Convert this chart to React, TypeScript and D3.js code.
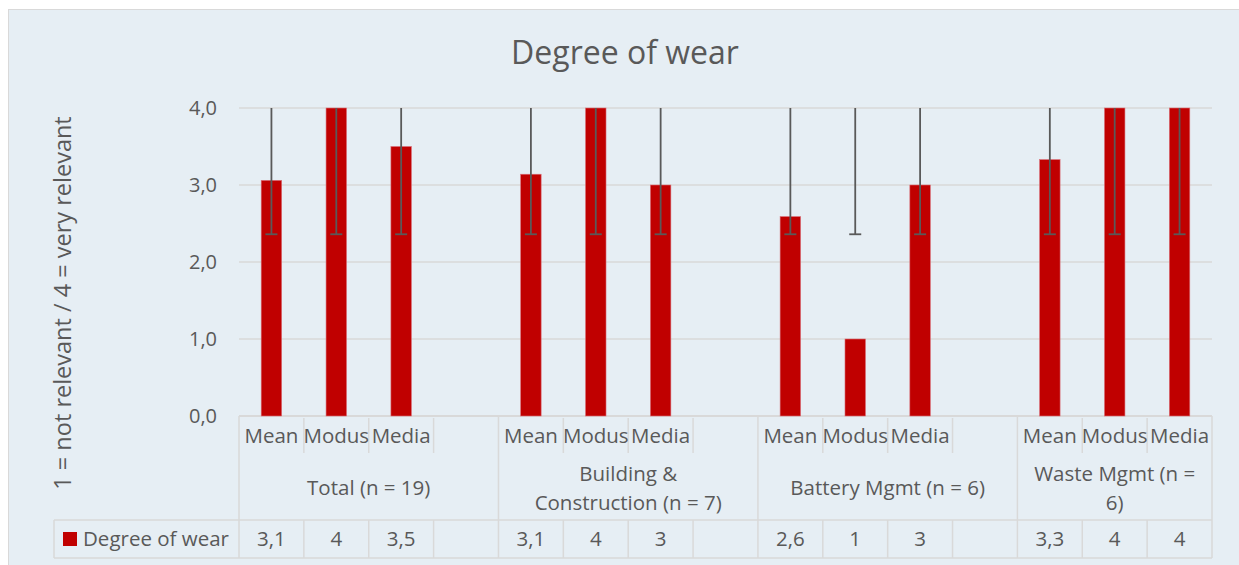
import React from "react";
import * as d3 from "d3";

const groupLines: string[][] = [
  ["Total (n = 19)"],
  ["Building &", "Construction (n = 7)"],
  ["Battery Mgmt (n = 6)"],
  ["Waste Mgmt (n =", "6)"],
];
const measures = ["Mean", "Modus", "Media"];
const values: number[][] = [
  [3.06, 4, 3.5],
  [3.14, 4, 3],
  [2.59, 1, 3],
  [3.33, 4, 4],
];
const tableLabels: string[][] = [
  ["3,1", "4", "3,5"],
  ["3,1", "4", "3"],
  ["2,6", "1", "3"],
  ["3,3", "4", "4"],
];
const errLow: number[][] = [
  [2.36, 2.36, 2.36],
  [2.36, 2.36, 2.36],
  [2.36, 2.36, 2.36],
  [2.36, 2.36, 2.36],
];
const errHigh = 4;
const yTicks = [0, 1, 2, 3, 4];
const seriesName = "Degree of wear";
const title = "Degree of wear";
const yTitle = "1 = not relevant / 4 = very relevant";

const W = 1239, H = 565;
const FONT = "'Open Sans', 'Noto Sans', sans-serif";
const TXT = "#595959";
const GRID = "#d9d9d9";
const RED = "#C00000";
const FS = 20.5;

export default function App() {
  const slots: { key: string; g: number; m: number }[] = [];
  groupLines.forEach((_, g) => {
    measures.forEach((_, m) => slots.push({ key: `${g}-${m}`, g, m }));
    if (g < groupLines.length - 1) slots.push({ key: `${g}-gap`, g, m: -1 });
  });
  const x = d3.scaleBand<string>().domain(slots.map((s) => s.key)).range([239, 1212]).padding(0);
  const y = d3.scaleLinear().domain([0, 4]).range([416, 108]);
  const bw = x.bandwidth();
  const barW = 20.5;

  const row1Top = 416, row1Bot = 454, row2Bot = 520, row3Bot = 558;
  const groupStart = (g: number) => x(slots.find((s) => s.g === g)!.key)!;
  const groupEnd = (g: number) => {
    const ss = slots.filter((s) => s.g === g);
    return x(ss[ss.length - 1].key)! + bw;
  };

  return (
    <svg width={W} height={H} style={{ position: "absolute", left: 0, top: 0 }} fontFamily={FONT}>
      <rect x={0} y={0} width={W} height={H} fill="#ffffff" />
      <rect x={8.5} y={9.5} width={W} height={H} fill="#e6eef4" stroke="#d9d9d9" strokeWidth={1} />
      <text x={625} y={64} textAnchor="middle" fontSize={32} fill={TXT}>{title}</text>

      {yTicks.map((t) => (
        <g key={t}>
          <line x1={239} x2={1212} y1={y(t)} y2={y(t)} stroke={GRID} strokeWidth={t === 0 ? 2 : 1.5} />
          <text x={217} y={y(t)} dy="0.35em" textAnchor="end" fontSize={20} fill={TXT}>
            {d3.format(".1f")(t).replace(".", ",")}
          </text>
        </g>
      ))}
      <text transform={`translate(71,${303}) rotate(-90)`} textAnchor="middle" fontSize={23.5} fill={TXT}>{yTitle}</text>

      {slots.filter((s) => s.m >= 0).map((s) => {
        const cx = x(s.key)! + bw / 2;
        const v = values[s.g][s.m];
        return (
          <rect key={s.key} x={cx - barW / 2} y={y(v)} width={barW} height={y(0) - y(v)} fill={RED} stroke="#d9707a" strokeWidth={0.6} />
        );
      })}
      {slots.filter((s) => s.m >= 0).map((s) => {
        const cx = x(s.key)! + bw / 2;
        const lo = errLow[s.g][s.m];
        return (
          <g key={"e" + s.key} stroke="#595959" strokeWidth={1.8}>
            <line x1={cx} x2={cx} y1={y(errHigh)} y2={y(lo)} />
            <line x1={cx - 6} x2={cx + 6} y1={y(lo)} y2={y(lo)} />
          </g>
        );
      })}

      <g stroke={GRID} strokeWidth={1.5}>
        {slots.map((s, i) => i === 0 || s.m === 0 ? null : (
          <line key={"s" + s.key} x1={x(s.key)!} x2={x(s.key)!} y1={row1Top + 2} y2={row1Bot - 1} />
        ))}
        {groupLines.map((_, g) => (
          <line key={"g" + g} x1={groupStart(g)} x2={groupStart(g)} y1={row1Top} y2={row2Bot} />
        ))}
        <line x1={1212} x2={1212} y1={row1Top} y2={row3Bot} />
        <line x1={54} x2={1212} y1={row2Bot} y2={row2Bot} />
        <line x1={54} x2={1212} y1={row3Bot} y2={row3Bot} />
        <line x1={54} x2={54} y1={row2Bot} y2={row3Bot} />
        {slots.map((s) => (
          <line key={"t" + s.key} x1={x(s.key)!} x2={x(s.key)!} y1={row2Bot} y2={row3Bot} />
        ))}
      </g>
      {slots.filter((s) => s.m >= 0).map((s) => (
        <text key={"m" + s.key} x={x(s.key)! + bw / 2} y={436} dy="0.35em" textAnchor="middle" fontSize={FS} fill={TXT}>
          {measures[s.m]}
        </text>
      ))}
      {groupLines.map((lines, g) => {
        const cx = (groupStart(g) + groupEnd(g)) / 2;
        const cy = (row1Bot + row2Bot) / 2 + 1;
        const lh = 29;
        return lines.map((l, i) => (
          <text key={"gl" + g + i} x={cx} y={cy + (i - (lines.length - 1) / 2) * lh} dy="0.35em" textAnchor="middle" fontSize={FS} fill={TXT}>
            {l}
          </text>
        ));
      })}
      {slots.filter((s) => s.m >= 0).map((s) => (
        <text key={"v" + s.key} x={x(s.key)! + bw / 2} y={(row2Bot + row3Bot) / 2} dy="0.35em" textAnchor="middle" fontSize={FS} fill={TXT}>
          {tableLabels[s.g][s.m]}
        </text>
      ))}
      <rect x={63} y={532} width={14} height={14} fill={RED} />
      <text x={83} y={(row2Bot + row3Bot) / 2} dy="0.35em" fontSize={FS} fill={TXT}>{seriesName}</text>
    </svg>
  );
}
